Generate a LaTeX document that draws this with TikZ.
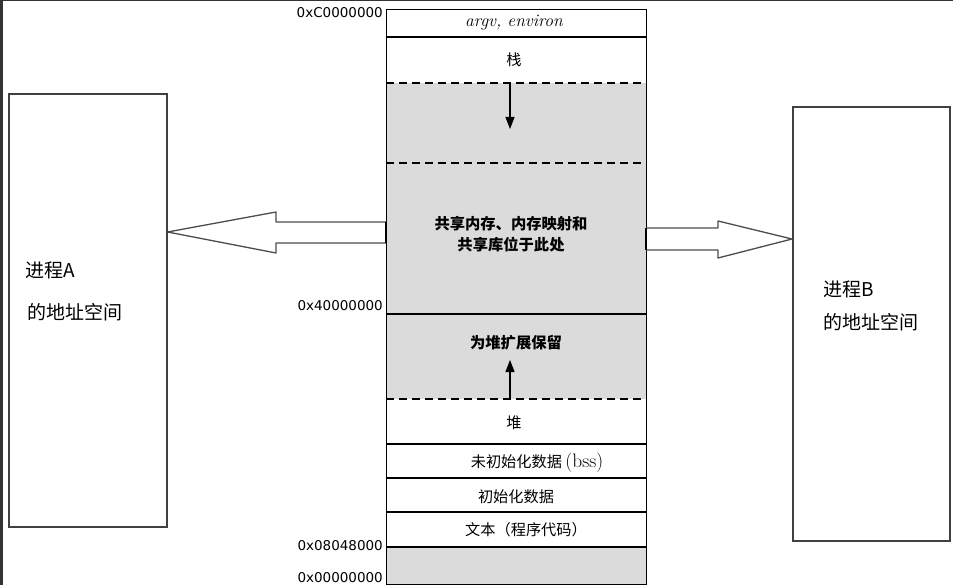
\documentclass[tikz,border=0pt]{standalone}
\usepackage{fontspec}
\newfontfamily\cjk{Noto Sans CJK SC}
\newfontfamily\addrfont{DejaVu Sans}
\usetikzlibrary{arrows.meta}
\begin{document}
\begin{tikzpicture}[x=1pt,y=-1pt,
  addr/.style={font=\addrfont\fontsize{13.5}{15}\selectfont, anchor=east, inner sep=0pt},
  seg/.style={font=\cjk\fontsize{15.2}{17}\selectfont, inner sep=0pt},
  segb/.style={font=\cjk\bfseries\fontsize{15.3}{18}\selectfont, inner sep=0pt, align=center},
  proc/.style={draw=black!75, line width=1.6pt, fill=white, minimum width=158pt, inner sep=0pt, anchor=north west},
  plabel/.style={font=\cjk\fontsize{19}{22}\selectfont, anchor=west, inner sep=0pt},
  rowline/.style={line width=1.1pt},
  dashline/.style={line width=1.3pt, dash pattern=on 8pt off 5pt},
  bigarrow/.style={draw=black!70, line width=1.3pt, fill=white, line join=round},
  growarrow/.style={line width=1.2pt, -{Triangle[length=12pt,width=9pt]}}]
\useasboundingbox (0,0) rectangle (953,585);
% screenshot frame artifacts
\fill[black!80] (0,0) rectangle (3,585);
\fill[black!80] (0,0) rectangle (953,1.5);

% process boxes
\node[proc, minimum height=433pt] (boxA) at (8,93) {};
\node[proc, minimum height=434pt, minimum width=157pt] (boxB) at (792,106) {};
\node[plabel] (labA1) at (25,270) {进程A};
\node[plabel] (labA2) at (27,312) {的地址空间};
\node[plabel] (labB1) at (823,289) {进程B};
\node[plabel] (labB2) at (823,322) {的地址空间};

% gray regions
\fill[black!14] (386,83) rectangle (646,399);
\fill[black!14] (386,547) rectangle (646,584);

% column outline
\node[draw, line width=1.2pt, minimum width=260pt, minimum height=575pt, inner sep=0pt, anchor=north west] (col) at (386,9) {};

% row separators
\draw[rowline] (386,37) -- (646,37);
\draw[dashline] (386,83) -- (646,83);
\draw[dashline] (386,163) -- (646,163);
\draw[rowline] (386,314) -- (646,314);
\draw[dashline] (386,399) -- (646,399);
\draw[rowline] (386,444) -- (646,444);
\draw[rowline] (386,478) -- (646,478);
\draw[rowline] (386,512) -- (646,512);
\draw[rowline] (386,547) -- (646,547);

% growth arrows
\coordinate (stkTop) at (510,83);
\coordinate (stkTip) at (510,129);
\coordinate (heapTop) at (510,399);
\coordinate (heapTip) at (510,360);
\draw[growarrow] (stkTop) -- (stkTip);
\draw[growarrow] (heapTop) -- (heapTip);

% segment texts
\node[font=\itshape\fontsize{17.5}{20}\selectfont, inner sep=0pt] (argv) at (514,23) {argv, environ};
\node[seg] (stack) at (514,60) {栈};
\node[segb] (shared) at (511,234) {共享内存、内存映射和\\[3pt]共享库位于此处};
\node[segb] (reserve) at (516,343) {为堆扩展保留};
\node[seg] (heap) at (514,423) {堆};
\node[seg] (bss) at (537,463) {未初始化数据 {\normalfont\fontsize{19.5}{20}\selectfont(bss)}};
\node[seg] (data) at (516,497) {初始化数据};
\node[seg] (text) at (526,530) {文本（程序代码）};

% addresses
\node[addr] (a1) at (383,13) {0xC0000000};
\node[addr] (a2) at (383,306) {0x40000000};
\node[addr] (a3) at (383,546) {0x08048000};
\node[addr] (a4) at (383,578) {0x00000000};

% big hollow arrows
\draw[bigarrow] (386,222) -- (276,222) -- (276,212) -- (boxA.east |- 0,232) -- (276,253) -- (276,243) -- (386,243);
\draw[bigarrow] (646,228) -- (718,228) -- (718,221) -- (boxB.west |- 0,239) -- (718,258) -- (718,250) -- (646,250);
\draw[line width=2.2pt] (386,222) -- (386,243);
\draw[line width=2.2pt] (646,228) -- (646,250);
\end{tikzpicture}
\end{document}
